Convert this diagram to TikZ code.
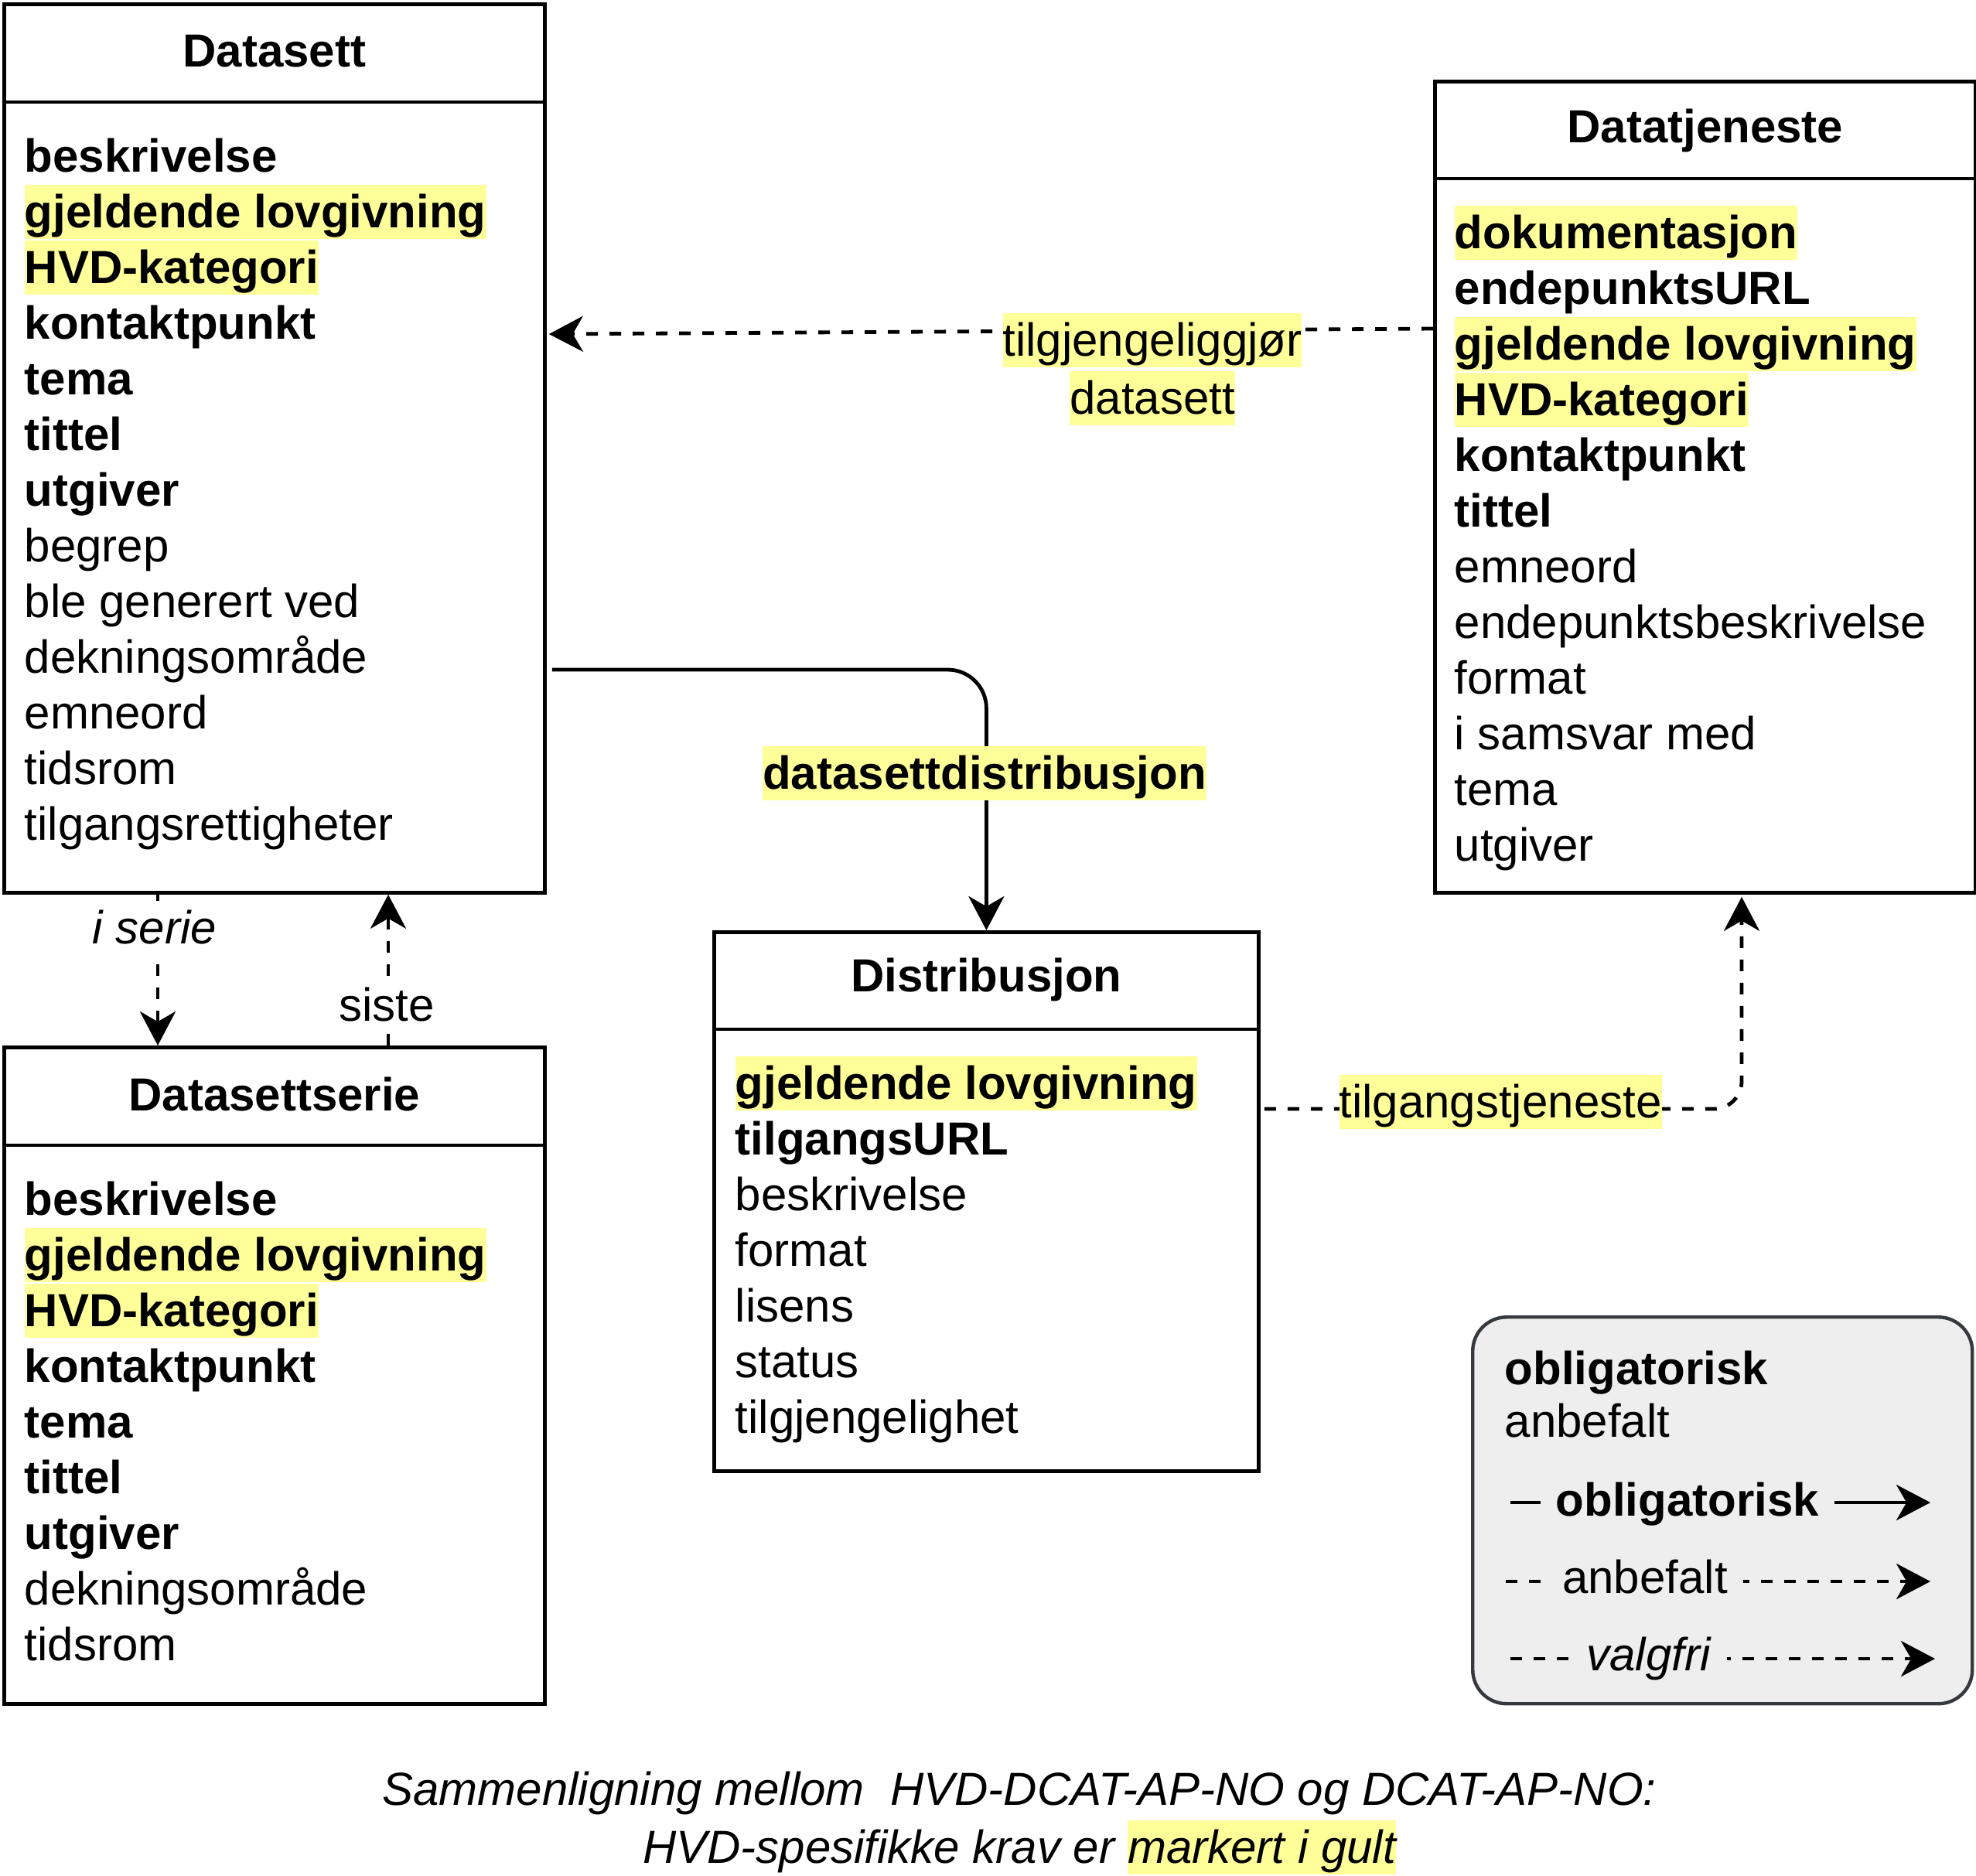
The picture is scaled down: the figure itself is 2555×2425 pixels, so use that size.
\documentclass[tikz,border=0pt]{standalone}
\usepackage{fontspec}
\setmainfont{Liberation Sans}
\usetikzlibrary{arrows.meta,calc}
\definecolor{hlyellow}{HTML}{FFFF99}
\definecolor{legfill}{HTML}{EEEEEE}
\definecolor{legdraw}{HTML}{36393D}
\newcommand{\hlstrut}{\rule[-3.75pt]{0pt}{17.5pt}}
\newcommand{\hlt}[1]{{\setlength{\fboxsep}{0pt}\colorbox{hlyellow}{\hlstrut#1}}}
\newcommand{\attb}[1]{\hlstrut\textbf{#1}}
\newcommand{\attr}[1]{\hlstrut#1}
\newcommand{\atth}[1]{\hlt{\textbf{#1}}}
\begin{document}
\begin{tikzpicture}[x=0.25pt,y=-0.25pt,
  font=\fontsize{15pt}{18pt}\selectfont,
  classbox/.style={draw=black, line width=1.2pt, anchor=north west, inner sep=0pt},
  ctitle/.style={font=\fontsize{15pt}{18pt}\selectfont\bfseries, inner sep=0pt},
  attrs/.style={anchor=west, align=left, inner sep=0pt, font=\fontsize{15pt}{18pt}\selectfont},
  conn/.style={line width=1.2pt, draw=black},
  tip/.style={-{Stealth[length=11pt,width=11.5pt,inset=3.3pt]}},
  dashH/.style={dash pattern=on 3.75pt off 3.75pt},
  dashV/.style={dash pattern=on 3.75pt off 3.75pt},
  hllabel/.style={inner sep=0pt},
  leglabel/.style={fill=legfill, inner xsep=5pt, inner ysep=0pt, anchor=base}
]
\useasboundingbox (0,0) rectangle (2555,2425);

% ---------- Datasett ----------
\node[classbox, minimum width=174.75pt, minimum height=287.25pt] (ds) at (3,3) {};
\draw[conn] ($(ds.north west)+(0,129)$) -- ($(ds.north east)+(0,129)$);
\node[ctitle] (ds-t) at ($(ds.north)+(0,63)$) {Datasett};
\node[attrs] (ds-a) at (31,634) {%
\attb{beskrivelse}\\
\atth{gjeldende lovgivning}\\
\atth{HVD-kategori}\\
\attb{kontaktpunkt}\\
\attb{tema}\\
\attb{tittel}\\
\attb{utgiver}\\
\attr{begrep}\\
\attr{ble generert ved}\\
\attr{dekningsområde}\\
\attr{emneord}\\
\attr{tidsrom}\\
\attr{tilgangsrettigheter}};

% ---------- Datasettserie ----------
\node[classbox, minimum width=174.75pt, minimum height=212.25pt] (dser) at (3,1352) {};
\draw[conn] ($(dser.north west)+(0,129)$) -- ($(dser.north east)+(0,129)$);
\node[ctitle] (dser-t) at ($(dser.north)+(0,63)$) {Datasettserie};
\node[attrs] (dser-a) at (31,1839) {%
\attb{beskrivelse}\\
\atth{gjeldende lovgivning}\\
\atth{HVD-kategori}\\
\attb{kontaktpunkt}\\
\attb{tema}\\
\attb{tittel}\\
\attb{utgiver}\\
\attr{dekningsområde}\\
\attr{tidsrom}};

% ---------- Distribusjon ----------
\node[classbox, minimum width=176pt, minimum height=174.25pt] (dist) at (921,1203) {};
\draw[conn] ($(dist.north west)+(0,128)$) -- ($(dist.north east)+(0,128)$);
\node[ctitle] (dist-t) at ($(dist.north)+(0,64)$) {Distribusjon};
\node[attrs] (dist-a) at (950,1617) {%
\atth{gjeldende lovgivning}\\
\attb{tilgangsURL}\\
\attr{beskrivelse}\\
\attr{format}\\
\attr{lisens}\\
\attr{status}\\
\attr{tilgjengelighet}};

% ---------- Datatjeneste ----------
\node[classbox, minimum width=174.75pt, minimum height=262.25pt] (dt) at (1853,103) {};
\draw[conn] ($(dt.north west)+(0,128)$) -- ($(dt.north east)+(0,128)$);
\node[ctitle] (dt-t) at ($(dt.north)+(0,66)$) {Datatjeneste};
\node[attrs] (dt-a) at (1880,697) {%
\atth{dokumentasjon}\\
\attb{endepunktsURL}\\
\atth{gjeldende lovgivning}\\
\atth{HVD-kategori}\\
\attb{kontaktpunkt}\\
\attb{tittel}\\
\attr{emneord}\\
\attr{endepunktsbeskrivelse}\\
\attr{format}\\
\attr{i samsvar med}\\
\attr{tema}\\
\attr{utgiver}};

% ---------- Connectors ----------
% tilgjengeliggjør datasett
\draw[conn, dashH, tip] ($(dt.north west)+(0,322)$) -- ($(ds.north east)+(3,429)$);
\node[hllabel, align=center, font=\fontsize{15pt}{18.75pt}\selectfont] (lbl-tg) at (1490,477.5)
  {\hlt{tilgjengeliggjør}\\\hlt{datasett}};

% datasettdistribusjon
\draw[conn, tip, rounded corners=12.5pt] ($(ds.north east)+(7,863)$) -| (dist.north);
\node[hllabel] (lbl-dd) at (1273,1000) {\hlt{\textbf{datasettdistribusjon}}};

% tilgangstjeneste
\draw[conn, dashH, tip, rounded corners=9pt] ($(dist.north east)+(5,231)$) -| ($(dt.south west)+(399,3)$);
\node[hllabel] (lbl-tj) at (1940,1425) {\hlt{tilgangstjeneste}};

% i serie
\draw[conn, dashV, tip] ($(ds.south west)+(201,0)$) -- ($(dser.north west)+(201,0)$);
\node[fill=white, inner sep=0pt] (lbl-is) at (200,1200) {\hlstrut\textit{i serie}};

% siste
\draw[conn, dashV, tip] ($(dser.north west)+(499,0)$) -- ($(ds.south west)+(499,0)$);
\node[fill=white, inner sep=0pt] (lbl-si) at (500,1300) {\hlstrut siste};

% ---------- Legend ----------
\node[draw=legdraw, fill=legfill, line width=1.1pt, rounded corners=11pt, anchor=north west,
  minimum width=161.5pt, minimum height=125pt, inner sep=0pt] (leg) at (1902,1701) {};
\node[anchor=base west, inner sep=0pt] (leg-ob) at (1945,1790) {\textbf{obligatorisk}};
\node[anchor=base west, inner sep=0pt] (leg-an) at (1945,1858) {anbefalt};

\coordinate (l3a) at (1953,1943);
\coordinate (l3b) at (2496,1943);
\draw[conn, tip] (l3a) -- (l3b);
\node[leglabel] (l3-lbl) at (2182,1960) {\textbf{obligatorisk}};

\coordinate (l4a) at (1947,2045);
\coordinate (l4b) at (2496,2045);
\draw[conn, dashH, tip] (l4a) -- (l4b);
\node[leglabel] (l4-lbl) at (2127,2060) {anbefalt};

\coordinate (l5a) at (1953,2145);
\coordinate (l5b) at (2502,2145);
\draw[conn, dashH, tip] (l5a) -- (l5b);
\node[leglabel] (l5-lbl) at (2132,2160) {\textit{valgfri}};

% ---------- Caption ----------
\node[align=center, inner sep=0pt, font=\fontsize{15pt}{18.75pt}\selectfont\itshape] (cap) at (1318,2351.5)
  {\hlstrut Sammenligning mellom\ \ HVD-DCAT-AP-NO og DCAT-AP-NO:\\
   \hlstrut HVD-spesifikke krav er \hlt{markert i gult}};
\end{tikzpicture}
\end{document}
